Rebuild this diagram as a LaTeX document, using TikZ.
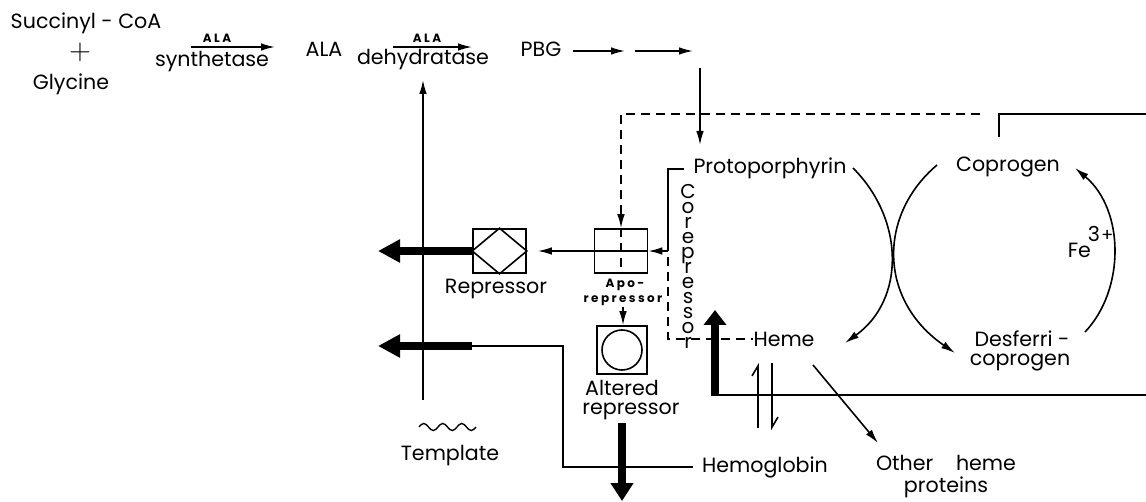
\documentclass[tikz,border=0pt]{standalone}
\usepackage{fontspec}
\setmainfont{Poppins}
\newfontfamily\tinyfont[LetterSpace=20]{Poppins}
\usetikzlibrary{arrows.meta}

\tikzset{
  lbl/.style={anchor=base, inner sep=0pt, font=\fontsize{10.3}{12}\selectfont},
  smalltxt/.style={anchor=base, inner sep=0pt, font=\tinyfont\bfseries\fontsize{6}{7}\selectfont},
  stacked/.style={inner sep=0pt, align=center, font={\fontsize{10}{7.5}\selectfont\lineskiplimit=-10pt}},
  box/.style={draw, minimum width=26.5pt, minimum height=22pt, inner sep=0pt},
  thickarrow/.style={line width=4.25pt, -{Triangle[length=#1, width=11pt]}},
  thickarrow/.default=11pt,
  harpoon/.style={-{Straight Barb[left, length=5pt, width=6pt]}},
  dashline/.style={dash pattern=on 4.5pt off 3pt}
}

\begin{document}
\begin{tikzpicture}[x=0.5pt, y=-0.5pt, line width=0.8pt, >={Latex[length=7pt, width=3.8pt]}]
  \useasboundingbox (0,0) rectangle (1146,502);

  % ALA synthesis
  \node[lbl] (succ) at (86,29) {Succinyl - CoA};
  \node[font=\Large, inner sep=0pt] (plus) at (80,52) {$+$};
  \node[lbl] (gly) at (71,90) {Glycine};
  \coordinate (s1a) at (191,47);
  \coordinate (s1b) at (275,47);
  \draw[->] (s1a) -- (s1b);
  \node[smalltxt] (ala1) at (217,43) {ALA};
  \node[lbl] (syn) at (212,67) {synthetase};
  \node[lbl] (ala) at (324,57) {ALA};
  \coordinate (s2a) at (393,47);
  \coordinate (s2b) at (472,47);
  \draw[->] (s2a) -- (s2b);
  \node[smalltxt] (ala2) at (427,43) {ALA};
  \node[lbl] (dehyd) at (423,65) {dehydratase};
  \node[lbl] (pbg) at (541,57) {PBG};
  \coordinate (p1a) at (573,51);
  \coordinate (p1b) at (625,51);
  \coordinate (p2a) at (635,51);
  \coordinate (p2b) at (693,51);
  \draw[->] (p1a) -- (p1b);
  \draw[->] (p2a) -- (p2b);
  \coordinate (v1a) at (700,68);
  \coordinate (v1b) at (700,145);
  \draw[->] (v1a) -- (v1b);

  % repressor boxes
  \node[box] (apo) at (621,251) {};
  \node[box] (rep) at (499.5,251) {};
  \draw (rep.west) -- (rep.north) -- (rep.east) -- (rep.south) -- cycle;
  \node[box, minimum width=25pt, minimum height=24pt] (alt) at (622,350) {};
  \draw (alt.center) circle (10pt);
  \node[lbl] (replab) at (496,293) {Repressor};
  \node[smalltxt] (apo1) at (625,288) {Apo-};
  \node[smalltxt] (apo2) at (623,303) {repressor};
  \node[lbl] (alt1) at (622,395) {Altered};
  \node[lbl] (alt2) at (631,415) {repressor};
  \draw[->] (apo2.south) -- (apo2.south |- alt.north);

  % dashed control line
  \coordinate (dc) at (621,114);
  \coordinate (de) at (980,114);
  \draw[dashline, ->] (de) -- (dc) -- (apo.north);
  \draw[dashline] (apo.north) -- (apo.south);

  % heme cycle
  \node[lbl] (proto) at (770,174) {Protoporphyrin};
  \node[lbl] (heme) at (784,346) {Heme};
  \node[lbl] (cop) at (1008,172) {Coprogen};
  \node[lbl] (desf1) at (1022,346) {Desferri -};
  \node[lbl] (desf2) at (1020,365) {coprogen};
  \node[lbl, anchor=base west] (fe) at (1067,258) {Fe\kern-1.5pt\raisebox{8.5pt}{3\kern0.5pt{\small+}}};
  \coordinate (a1s) at (853,168);
  \coordinate (a1e) at (845,343);
  \coordinate (a2s) at (937,165);
  \coordinate (a2e) at (955,353);
  \draw[->] (a1s) .. controls (905,220) and (905,300) .. (a1e);
  \draw[->] (a2s) .. controls (878,215) and (878,300) .. (a2e);
  \coordinate (fa1) at (1085,332);
  \coordinate (fa2) at (1075,168);
  \draw[->] (fa1) .. controls (1125,290) and (1125,210) .. (fa2);
  \coordinate (cl1) at (999,137);
  \coordinate (cl2) at (1146,114);
  \draw (cl1) |- (cl2);

  % corepressor
  \node[stacked, anchor=north] (corep) at (688,184) {C\\o\\r\\e\\p\\r\\e\\s\\s\\o\\r};
  \coordinate (pj) at (668,251);
  \draw ([xshift=-4.5pt]proto.west) -| (pj);
  \draw[->] (pj) -- (apo.east);
  \draw[->, shorten >=5.5pt] (apo.east) -- (rep.east);
  \coordinate (cd) at (668,257);
  \draw[dashline] (cd) |- (heme.west);

  % thick arrows
  \coordinate (r1t) at (378,251);
  \draw[thickarrow] (rep.west) -- (r1t);
  \node[lbl] (hemo) at (765,472) {Hemoglobin};
  \coordinate (l1) at (472,346);
  \coordinate (l2) at (563,346);
  \coordinate (lt) at (378,346);
  \draw ([xshift=-4pt]hemo.west) -| (l2) -- (l1);
  \draw[thickarrow] (l1) -- (lt);
  \coordinate (at) at (622,423);
  \coordinate (ab) at (622,501);
  \draw[thickarrow=9pt] (at) -- (ab);
  \coordinate (hb) at (715,395);
  \coordinate (ht) at (715,310);
  \coordinate (hr) at (1146,395);
  \draw (hb) -- (hr);
  \draw[thickarrow=7.5pt] ([yshift=-0.4pt]hb) -- (ht);

  % template
  \coordinate (tb) at (423,400);
  \coordinate (tt) at (423,80);
  \draw[->] (tb) -- (tt);
  \draw[line width=0.7pt] (419,427) sin ++(4.75,-3.5) cos ++(4.75,3.5) sin ++(4.75,3.5) cos ++(4.75,-3.5)
    sin ++(4.75,-3.5) cos ++(4.75,3.5) sin ++(4.75,3.5) cos ++(4.75,-3.5)
    sin ++(4.75,-3.5) cos ++(4.75,3.5) sin ++(4.75,3.5) cos ++(4.75,-3.5);
  \node[lbl] (tmpl) at (450,460) {Template};

  % heme fates
  \coordinate (hg1a) at (758,428);
  \coordinate (hg1b) at (758,363);
  \coordinate (hg2a) at (772,363);
  \coordinate (hg2b) at (772,430);
  \draw[harpoon] (hg1a) -- (hg1b);
  \draw[harpoon] (hg2a) -- (hg2b);
  \coordinate (ho1) at (813,365);
  \coordinate (ho2) at (878,443);
  \draw[->] (ho1) -- (ho2);
  \node[lbl] (oth1) at (946,470) {Other\hspace{1.1em}heme};
  \node[lbl] (oth2) at (946,492) {proteins};
\end{tikzpicture}
\end{document}
